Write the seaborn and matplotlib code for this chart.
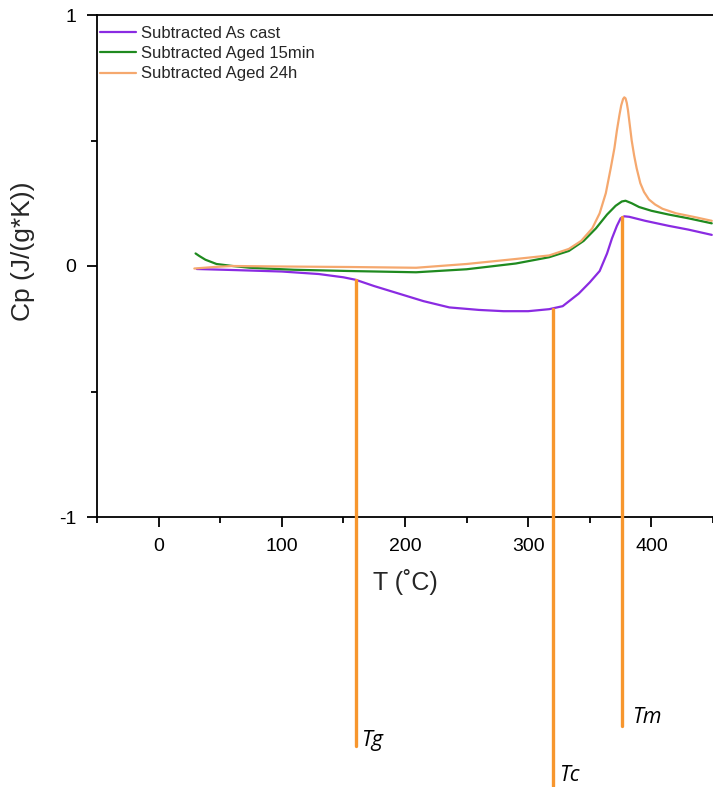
import numpy as np
import pandas as pd
import matplotlib
matplotlib.use("Agg")
import matplotlib.pyplot as plt
import seaborn as sns
from matplotlib.ticker import MultipleLocator

# ---- data ----
asc_T = [31, 60, 100, 130, 150, 160, 175, 195, 215, 236, 260, 280, 300, 317, 328, 341, 350, 358, 364, 368, 372, 375, 378, 382, 395, 414, 430, 449]
asc_cp = [-0.012, -0.016, -0.022, -0.032, -0.045, -0.055, -0.08, -0.11, -0.14, -0.165, -0.175, -0.18, -0.18, -0.172, -0.16, -0.11, -0.065, -0.02, 0.05, 0.11, 0.16, 0.19, 0.198, 0.196, 0.18, 0.16, 0.145, 0.124]

a15_T = [30, 33, 38, 47, 60, 74, 110, 155, 209, 250, 290, 317, 333, 345, 355, 364, 371, 376, 379, 384, 390, 400, 414, 430, 449]
a15_cp = [0.05, 0.04, 0.025, 0.008, 0.0, -0.007, -0.015, -0.02, -0.025, -0.013, 0.01, 0.035, 0.06, 0.1, 0.15, 0.205, 0.24, 0.257, 0.26, 0.25, 0.235, 0.22, 0.205, 0.19, 0.17]

a24_T = [29, 45, 60, 100, 155, 209, 250, 290, 317, 333, 343, 352, 358, 363, 367, 370, 372, 374, 375.5, 377, 378, 379, 380, 381, 382.5, 384, 386, 388, 391, 394, 398, 403, 409, 420, 435, 449]
a24_cp = [-0.01, -0.004, 0.0, -0.002, -0.004, -0.007, 0.008, 0.028, 0.042, 0.068, 0.1, 0.15, 0.21, 0.29, 0.39, 0.47, 0.54, 0.6, 0.64, 0.665, 0.672, 0.668, 0.65, 0.62, 0.56, 0.5, 0.44, 0.39, 0.33, 0.295, 0.265, 0.245, 0.228, 0.21, 0.195, 0.18]

series_names = ["Subtracted As cast", "Subtracted Aged 15min", "Subtracted Aged 24h"]
series_colors = ["#8a2be2", "#1f8a1f", "#f5a86e"]

marker_labels = ["Tg", "Tc", "Tm"]
marker_T = [160, 320, 376]
marker_top = [-0.055, -0.17, 0.195]
marker_bottom = [-1.912, -2.07, -1.833]
marker_text_x = [164, 325, 384]
marker_text_y = [-1.89, -2.03, -1.797]

x_ticks = [0, 100, 200, 300, 400]
y_ticks = [-1, 0, 1]

# ---- build long dataframe ----
frames = []
for name, T, cp in zip(series_names, [asc_T, a15_T, a24_T], [asc_cp, a15_cp, a24_cp]):
    frames.append(pd.DataFrame({"T": T, "Cp": cp, "series": name}))
df = pd.concat(frames, ignore_index=True)

sns.set_theme(style="ticks")
plt.rcParams["font.family"] = ["Liberation Sans", "DejaVu Sans"]

fig = plt.figure(figsize=(7.13, 7.87), dpi=100)
ax = fig.add_axes([97 / 713, 1 - 517 / 787, 1 - 97 / 713, (517 - 15) / 787])

sns.lineplot(data=df, x="T", y="Cp", hue="series", hue_order=series_names,
             palette=dict(zip(series_names, series_colors)), linewidth=1.6,
             ax=ax, sort=False, estimator=None)

# vertical marker lines extending below axes
for T, top, bot, lab, tx, ty in zip(marker_T, marker_top, marker_bottom, marker_labels, marker_text_x, marker_text_y):
    ax.plot([T, T], [top, bot], color="#f7962e", linewidth=2.4, clip_on=False, zorder=5)
    ax.text(tx, ty, lab, fontsize=15.5, style="italic", ha="left", va="center",
            family=["Open Sans", "DejaVu Sans"], clip_on=False, color="black")

ax.set_xlim(-50, 450)
ax.set_ylim(-1, 1)
ax.set_xticks(x_ticks)
ax.set_yticks(y_ticks)
ax.xaxis.set_minor_locator(MultipleLocator(50))
ax.yaxis.set_minor_locator(MultipleLocator(0.5))
ax.tick_params(axis="both", which="major", length=7, width=1.3, labelsize=14, color="black", labelcolor="black", direction="out")
ax.tick_params(axis="both", which="minor", length=4, width=1.3, color="black", direction="out")
ax.tick_params(axis="y", pad=8)
ax.tick_params(axis="x", pad=8)
ax.set_yticklabels([str(v) for v in y_ticks])

for side in ["left", "bottom", "top"]:
    ax.spines[side].set_visible(True)
    ax.spines[side].set_linewidth(1.3)
    ax.spines[side].set_color("black")
ax.spines["right"].set_visible(False)

ax.set_xlabel("T (˚C)", fontsize=18, labelpad=10)
ax.set_ylabel("Cp (J/(g*K))", fontsize=19)
ax.yaxis.set_label_coords(-0.1006, 0.53)

leg = ax.legend(loc="upper left", frameon=False, fontsize=12, labelspacing=0.32,
                handlelength=2.2, handletextpad=0.3, borderaxespad=0.1, borderpad=0.55,
                bbox_to_anchor=(-0.013, 1.0))
for line in leg.get_lines():
    line.set_linewidth(1.6)

fig.savefig("out.png", dpi=100)
